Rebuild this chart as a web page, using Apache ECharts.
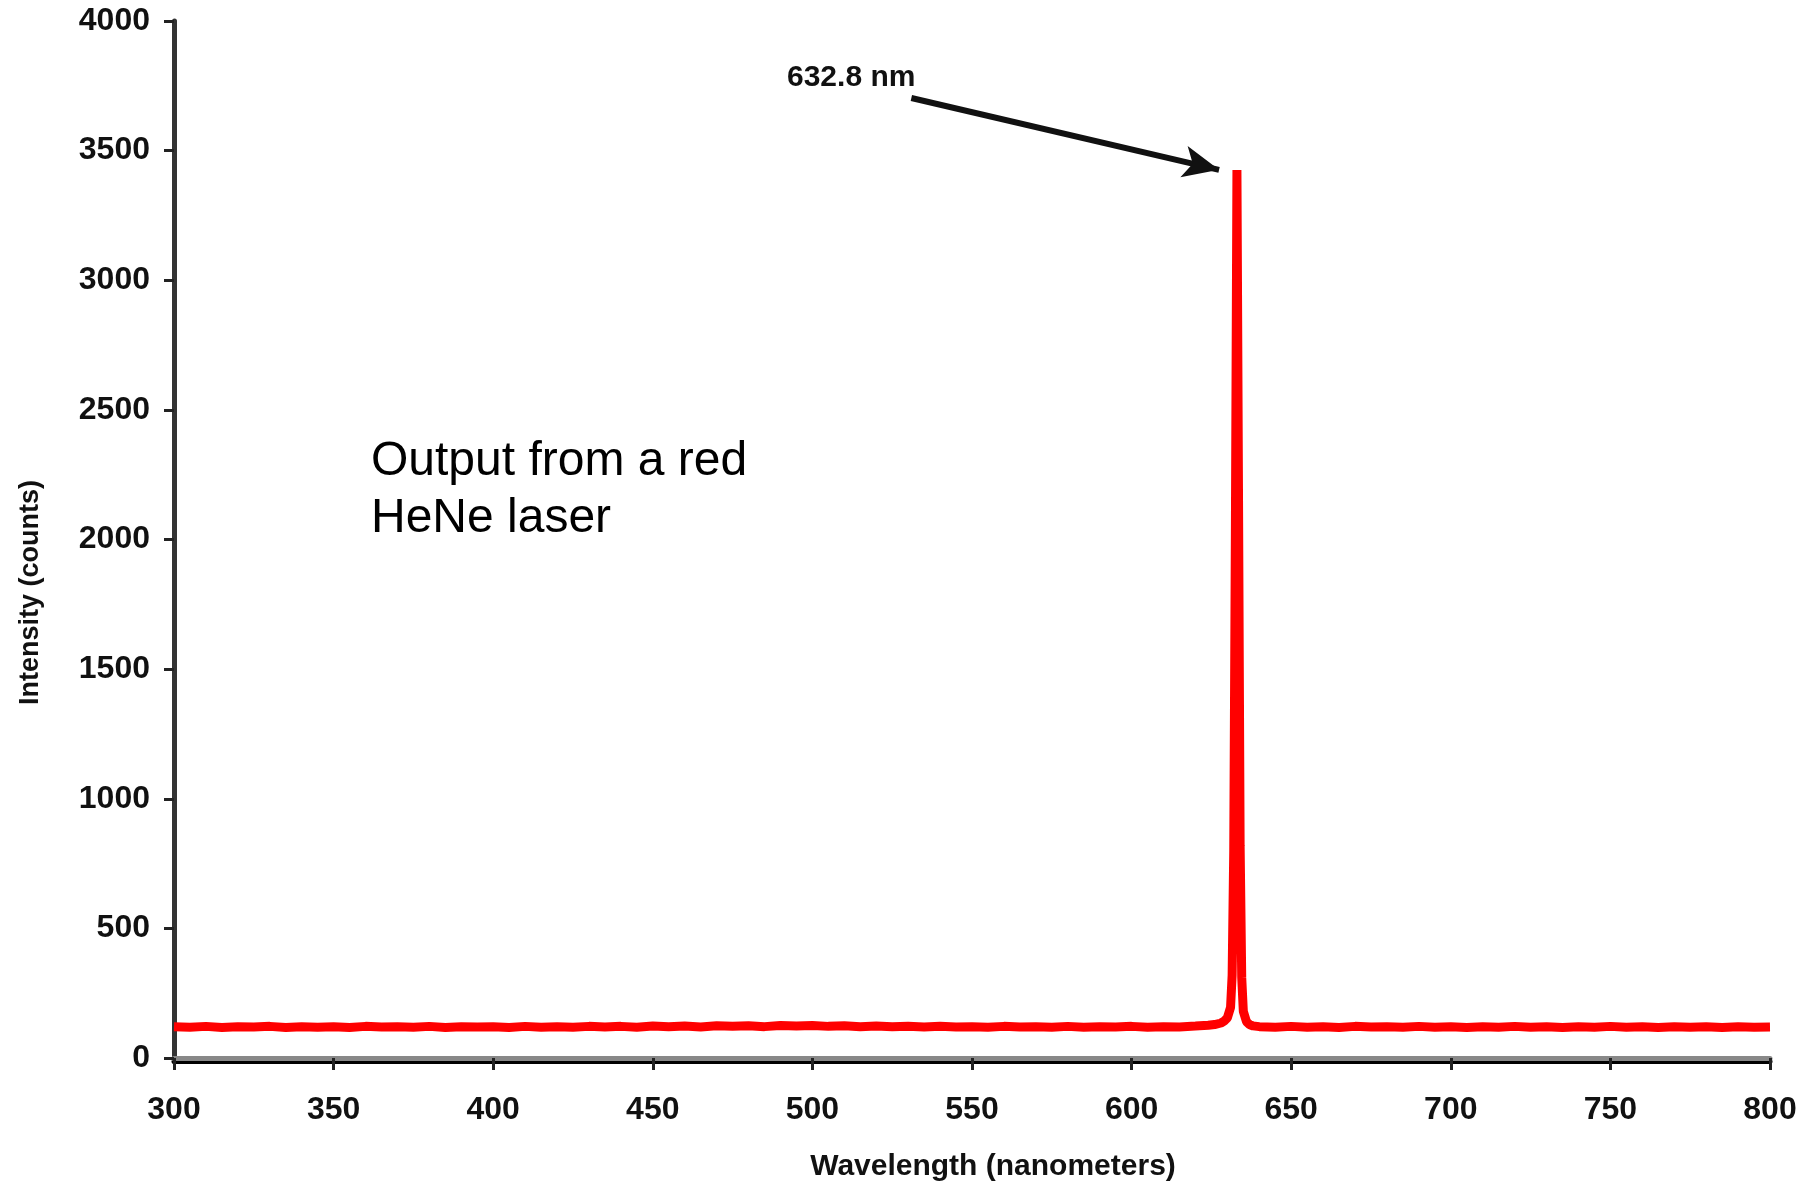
<!DOCTYPE html>
<html>
<head>
<meta charset="utf-8">
<script src="https://cdn.jsdelivr.net/npm/echarts@6/dist/echarts.min.js"></script>
<style>
  html, body { margin: 0; padding: 0; background: #fff; }
  #main { width: 1816px; height: 1188px; }
</style>
</head>
<body>
<div id="main"></div>
<script>
// wavelength (nm)
var wavelengths = [
  300, 305, 310, 315, 320, 325, 330, 335, 340, 345, 350, 355, 360, 365, 370, 375, 380, 385, 390, 395,
  400, 405, 410, 415, 420, 425, 430, 435, 440, 445, 450, 455, 460, 465, 470, 475, 480, 485, 490, 495,
  500, 505, 510, 515, 520, 525, 530, 535, 540, 545, 550, 555, 560, 565, 570, 575, 580, 585, 590, 595,
  600, 605, 610, 615, 620, 624, 626, 628, 629, 630, 631, 631.5, 632, 632.5, 633, 633.5, 634, 634.5,
  635, 636, 637, 638, 640, 645, 650, 655, 660, 665, 670, 675, 680, 685, 690, 695, 700, 705, 710, 715,
  720, 725, 730, 735, 740, 745, 750, 755, 760, 765, 770, 775, 780, 785, 790, 795, 800
];
// intensity (counts)
var counts = [
  121, 119, 122, 118, 121, 120, 122, 118, 121, 119, 121, 118, 122, 120, 121, 119, 122, 118, 121, 120,
  121, 118, 122, 119, 121, 119, 122, 120, 122, 119, 123, 121, 123, 120, 124, 122, 124, 121, 125, 123,
  125, 122, 124, 121, 123, 121, 122, 120, 122, 120, 121, 119, 122, 120, 121, 119, 122, 119, 121, 120,
  122, 119, 121, 120, 123, 126, 129, 135, 142, 155, 195, 320, 800, 2000, 3425, 2150, 820, 310,
  180, 140, 128, 124, 121, 119, 122, 119, 121, 118, 122, 120, 121, 119, 122, 119, 121, 118, 121, 119,
  122, 119, 121, 118, 121, 119, 122, 119, 121, 118, 121, 119, 121, 118, 121, 119, 120
];
var xTicks = { min: 300, max: 800, step: 50 };
var yTicks = { min: 0, max: 4000, step: 500 };
var peakLabel = '632.8 nm';
// arrow from label towards the peak, in data units
var arrowFrom = [531, 3703];
var arrowTo = [627.4, 3426];
var note = 'Output from a red\nHeNe laser';

var chart = echarts.init(document.getElementById('main'));
var points = wavelengths.map(function (w, i) { return [w, counts[i]]; });
var tickFont = { color: '#111', fontSize: 32, fontWeight: 'bold', fontFamily: 'Liberation Sans' };

var option = {
  animation: false,
  backgroundColor: '#fff',
  grid: { left: 174, right: 46, top: 21, bottom: 130, outerBoundsMode: 'none', containLabel: false },
  xAxis: {
    type: 'value',
    min: xTicks.min,
    max: xTicks.max,
    interval: xTicks.step,
    name: 'Wavelength (nanometers)',
    nameLocation: 'middle',
    nameGap: 94,
    nameTextStyle: { color: '#111', fontSize: 30, fontWeight: 'bold', fontFamily: 'Liberation Sans', padding: [0, 0, 0, 42] },
    axisLine: { lineStyle: { color: '#888', width: 5, shadowColor: '#000', shadowOffsetY: 3, shadowBlur: 0 } },
    axisTick: { length: 12, lineStyle: { color: '#222', width: 3 } },
    axisLabel: Object.assign({ margin: 36 }, tickFont),
    splitLine: { show: false }
  },
  yAxis: {
    type: 'value',
    min: yTicks.min,
    max: yTicks.max,
    interval: yTicks.step,
    name: 'Intensity (counts)',
    nameLocation: 'middle',
    nameGap: 130,
    nameTextStyle: { color: '#111', fontSize: 27, fontWeight: 'bold', fontFamily: 'Liberation Sans', padding: [0, 106, 0, 0] },
    axisLine: { show: true, lineStyle: { color: '#333', width: 5 } },
    axisTick: { show: true, length: 10, lineStyle: { color: '#222', width: 3 } },
    axisLabel: Object.assign({ margin: 24, formatter: function (v) { return String(v); } }, tickFont),
    splitLine: { show: false }
  },
  series: [{
    type: 'line',
    data: points,
    showSymbol: false,
    lineStyle: { color: '#ff0000', width: 9 },
    markLine: {
      silent: true,
      symbol: ['none', 'arrow'],
      symbolSize: [24, 36],
      label: { show: false },
      lineStyle: { color: '#111', width: 6, type: 'solid' },
      data: [[{ coord: arrowFrom }, { coord: arrowTo }]]
    }
  }],
  graphic: [
    {
      type: 'text',
      left: 787,
      top: 63,
      style: { text: peakLabel, fill: '#111', font: 'bold 30px "Liberation Sans"' }
    },
    {
      type: 'text',
      left: 371,
      top: 433,
      style: { text: note, fill: '#000', font: '48px "Liberation Sans"', lineHeight: 57 }
    }
  ]
};

chart.setOption(option);
window.addEventListener('resize', function () { chart.resize(); });
</script>
</body>
</html>
